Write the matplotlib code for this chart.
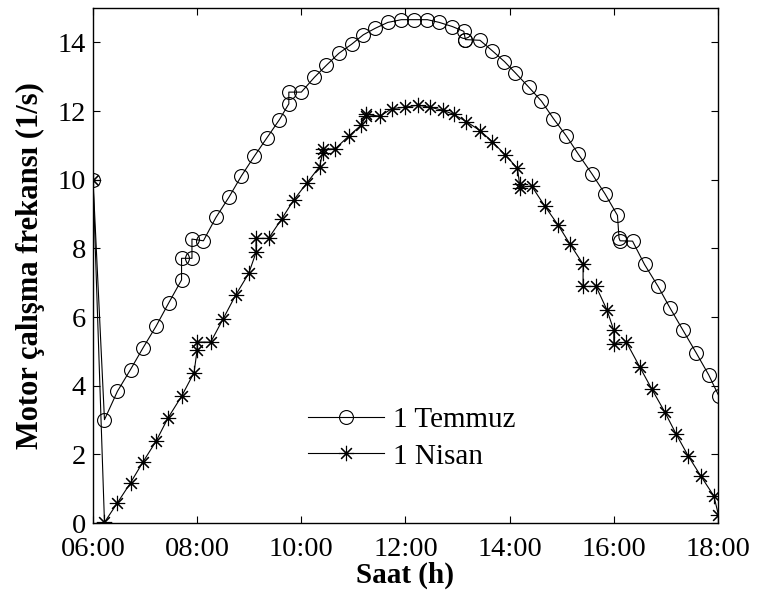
import matplotlib
matplotlib.use("Agg")
import matplotlib.pyplot as plt

plt.rcParams['font.family'] = ['Liberation Serif', 'DejaVu Serif']

# 1 Temmuz (saat, frekans)
temmuz_t = [6.00, 6.22, 6.47, 6.72, 6.96, 7.21, 7.45, 7.70, 7.70, 7.90, 7.90, 8.12,
            8.36, 8.61, 8.85, 9.10, 9.34, 9.58, 9.76, 9.76, 10.00, 10.25, 10.48, 10.72,
            10.97, 11.19, 11.42, 11.66, 11.92, 12.16, 12.42, 12.65, 12.90, 13.12, 13.15,
            13.15, 13.43, 13.67, 13.90, 14.11, 14.37, 14.61, 14.84, 15.09, 15.32, 15.58,
            15.83, 16.07, 16.10, 16.12, 16.36, 16.59, 16.85, 17.08, 17.33, 17.58, 17.82,
            18.02]
temmuz_f = [10.00, 3.01, 3.84, 4.47, 5.10, 5.73, 6.40, 7.08, 7.71, 7.71, 8.27, 8.22,
            8.90, 9.49, 10.11, 10.69, 11.22, 11.75, 12.21, 12.55, 12.55, 12.98, 13.33, 13.68,
            13.95, 14.22, 14.41, 14.58, 14.66, 14.66, 14.66, 14.58, 14.46, 14.32, 14.08,
            14.08, 14.06, 13.75, 13.44, 13.11, 12.69, 12.29, 11.78, 11.27, 10.74, 10.17,
            9.59, 8.96, 8.30, 8.22, 8.21, 7.53, 6.89, 6.26, 5.61, 4.96, 4.32,
            3.69]

# 1 Nisan (saat, frekans)
nisan_t = [6.00, 6.22, 6.47, 6.72, 6.96, 7.21, 7.44, 7.70, 7.94, 8.00, 8.00, 8.26,
           8.50, 8.74, 8.99, 9.13, 9.13, 9.37, 9.62, 9.85, 10.11, 10.35, 10.41, 10.41,
           10.65, 10.91, 11.15, 11.24, 11.24, 11.51, 11.74, 11.99, 12.24, 12.47, 12.72,
           12.93, 13.17, 13.43, 13.67, 13.91, 14.15, 14.19, 14.19, 14.42, 14.67, 14.93,
           15.16, 15.41, 15.41, 15.66, 15.87, 16.00, 16.00, 16.24, 16.50, 16.73, 16.98,
           17.20, 17.43, 17.67, 17.92, 18.01]
nisan_f = [10.00, 0.02, 0.59, 1.17, 1.78, 2.38, 3.06, 3.69, 4.38, 5.05, 5.27, 5.27,
           5.95, 6.64, 7.27, 7.88, 8.29, 8.29, 8.85, 9.40, 9.91, 10.38, 10.78, 10.88,
           10.90, 11.27, 11.59, 11.85, 11.90, 11.85, 12.07, 12.11, 12.17, 12.11, 12.02,
           11.90, 11.69, 11.43, 11.10, 10.73, 10.33, 9.87, 9.77, 9.82, 9.24, 8.68,
           8.12, 7.54, 6.89, 6.89, 6.20, 5.61, 5.22, 5.27, 4.54, 3.90, 3.23,
           2.58, 1.95, 1.37, 0.79, 0.23]

x_ticks = [6, 8, 10, 12, 14, 16, 18]
y_ticks = [0, 2, 4, 6, 8, 10, 12, 14]

fig = plt.figure(figsize=(7.58, 6.02), dpi=100)
ax = fig.add_axes([0.1227, 0.1312, 0.8245, 0.8555])

ax.plot(temmuz_t, temmuz_f, color='black', linewidth=0.8, marker='o', markersize=10,
        markerfacecolor='none', markeredgecolor='black', markeredgewidth=0.8,
        label='1 Temmuz')
ax.plot(nisan_t, nisan_f, color='black', linewidth=0.8, marker=(8, 2, 0), markersize=11,
        markeredgecolor='black', markeredgewidth=0.8, label='1 Nisan')

ax.set_xlim(6, 18)
ax.set_ylim(0, 15)
ax.set_xticks(x_ticks)
ax.set_xticklabels(['%02d:00' % h for h in x_ticks])
ax.set_yticks(y_ticks)
ax.tick_params(direction='in', top=True, right=True, length=5, width=0.8,
               labelsize=20.5)
ax.tick_params(axis='x', pad=10)
ax.tick_params(axis='y', pad=5)
for s in ax.spines.values():
    s.set_linewidth(1.0)

ax.set_xlabel('Saat (h)', fontsize=21, fontweight='bold', labelpad=0)
ax.set_ylabel('Motor çalışma frekansı (1/s)', fontsize=22, fontweight='bold', labelpad=9)

ax.legend(loc='center', bbox_to_anchor=(0.51, 0.165), frameon=False, fontsize=21,
          handlelength=2.6, handletextpad=0.3, labelspacing=0.35)

fig.savefig('out.png', dpi=100)
